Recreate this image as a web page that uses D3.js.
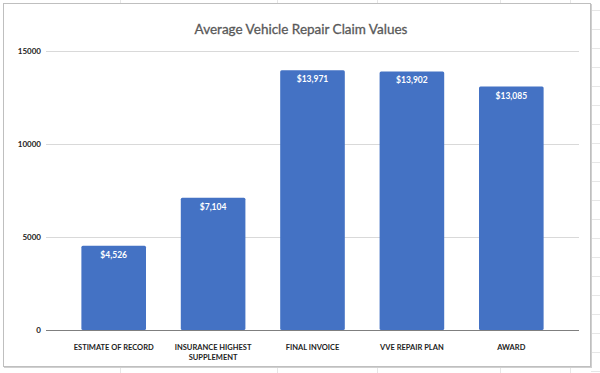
<!DOCTYPE html>
<html><head><meta charset="utf-8">
<script src="https://cdn.jsdelivr.net/npm/d3@7"></script>
<style>html,body{margin:0;padding:0;background:#fff;}svg{display:block;}</style>
</head><body>
<script>
const categories = ["ESTIMATE OF RECORD", "INSURANCE HIGHEST SUPPLEMENT", "FINAL INVOICE", "VVE REPAIR PLAN", "AWARD"];
const categoryLines = [["ESTIMATE OF RECORD"], ["INSURANCE HIGHEST", "SUPPLEMENT"], ["FINAL INVOICE"], ["VVE REPAIR PLAN"], ["AWARD"]];
const values = [4526, 7104, 13971, 13902, 13085];
const yTicks = [0, 5000, 10000, 15000];
const title = "Average Vehicle Repair Claim Values";

const W = 600, H = 373;
const svg = d3.select("body").append("svg").attr("width", W).attr("height", H);

// spreadsheet background lines
const bg = svg.append("g").attr("stroke", "#e6e6e6").attr("stroke-width", 1);
[120, 277, 377, 500, 570].forEach(x => {
  bg.append("line").attr("x1", x + .5).attr("x2", x + .5).attr("y1", 0).attr("y2", 3);
  bg.append("line").attr("x1", x + .5).attr("x2", x + .5).attr("y1", 367).attr("y2", H);
});
d3.range(10, H, 19).forEach(y => {
  bg.append("line").attr("x1", 591).attr("x2", W).attr("y1", y + .5).attr("y2", y + .5);
});

// chart frame
svg.append("rect").attr("x", 3.5).attr("y", 3.5).attr("width", 587).attr("height", 363)
  .attr("fill", "#fff").attr("stroke", "#bfbfbf").attr("stroke-width", 1);
svg.append("line").attr("x1", 4).attr("x2", 591).attr("y1", 367.5).attr("y2", 367.5).attr("stroke", "#d0d0d0");
svg.append("line").attr("x1", 591.5).attr("x2", 591.5).attr("y1", 4).attr("y2", 368).attr("stroke", "#d0d0d0");

svg.append("text").attr("x", 301).attr("y", 34).attr("text-anchor", "middle")
  .attr("font-family", "Lato, 'Open Sans', sans-serif").attr("font-size", 13.5)
  .attr("fill", "#595959").attr("stroke", "#595959").attr("stroke-width", 0.3).text(title);

const x = d3.scaleBand().domain(categories).range([46, 579]).paddingInner(0.35).paddingOuter(0.356);
const y = d3.scaleLinear().domain([0, 15000]).range([330, 51]);

// gridlines
const grid = svg.append("g");
grid.selectAll("line").data(yTicks.filter(d => d > 0)).join("line")
  .attr("x1", 46).attr("x2", 579)
  .attr("y1", d => Math.round(y(d)) + .5).attr("y2", d => Math.round(y(d)) + .5)
  .attr("stroke", "#d9d9d9").attr("stroke-width", 1);

// y axis labels
const yAxis = d3.axisLeft(y).tickValues(yTicks).tickSize(0).tickPadding(0).tickFormat(d3.format("d"));
const ya = svg.append("g").attr("transform", "translate(41,0)").call(yAxis);
ya.select(".domain").remove();
ya.selectAll("text").attr("font-family", "Lato, 'Open Sans', sans-serif").attr("font-size", 8)
  .attr("font-weight", "bold").attr("fill", "#222");

// bars
svg.append("g").selectAll("rect").data(values).join("rect")
  .attr("x", (d, i) => x(categories[i])).attr("width", x.bandwidth())
  .attr("y", d => y(d)).attr("height", d => y(0) - y(d))
  .attr("rx", 1.5)
  .attr("fill", "#4472C4");

// value labels
svg.append("g").selectAll("text").data(values).join("text")
  .attr("x", (d, i) => x(categories[i]) + x.bandwidth() / 2)
  .attr("y", d => y(d) + 12)
  .attr("text-anchor", "middle")
  .attr("font-family", "Lato, 'Open Sans', sans-serif").attr("font-size", 8.5)
  .attr("font-weight", "bold").attr("fill", "#fff")
  .text(d => "$" + d3.format(",")(d));

// x axis baseline
svg.append("line").attr("x1", 46).attr("x2", 579).attr("y1", 330.5).attr("y2", 330.5)
  .attr("stroke", "#7f7f7f").attr("stroke-width", 1);

// category labels
const xa = svg.append("g");
categoryLines.forEach((lines, i) => {
  const t = xa.append("text")
    .attr("x", x(categories[i]) + x.bandwidth() / 2).attr("y", 350)
    .attr("text-anchor", "middle")
    .attr("font-family", "Lato, 'Open Sans', sans-serif").attr("font-size", 7.5)
    .attr("font-weight", "bold").attr("fill", "#222");
  lines.forEach((l, j) => t.append("tspan").attr("x", x(categories[i]) + x.bandwidth() / 2)
    .attr("dy", j === 0 ? 0 : 10).text(l));
});
</script>
</body></html>
